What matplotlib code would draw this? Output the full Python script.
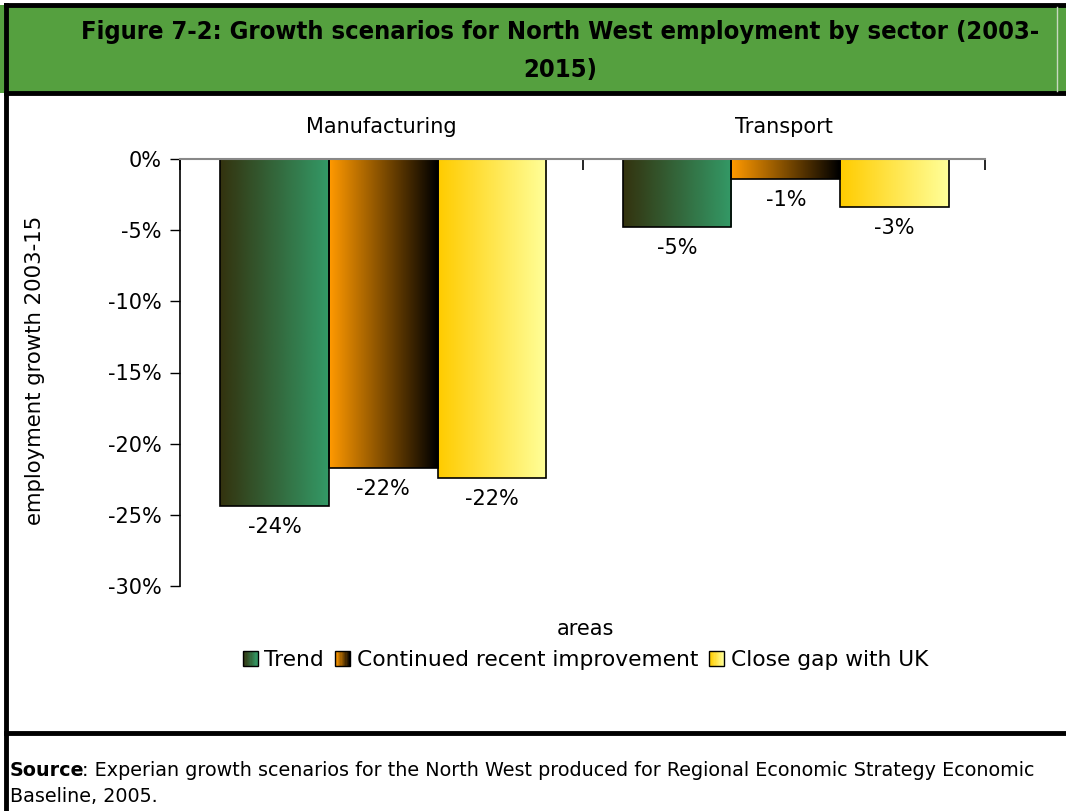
import numpy as np
import matplotlib
matplotlib.use("Agg")
import matplotlib.pyplot as plt
from matplotlib.patches import Rectangle
from matplotlib.legend_handler import HandlerBase
from matplotlib.lines import Line2D

# employment growth 2003-15, per cent
sectors = ["Manufacturing", "Transport"]
scenarios = ["Trend", "Continued recent improvement", "Close gap with UK"]
trend = [-24.4, -4.8]
continued = [-21.7, -1.4]
close_gap = [-22.4, -3.4]
yticks = [0, -5, -10, -15, -20, -25, -30]

# left -> right colour of each bar gradient
grads = [("#33330f", "#339966"), ("#ff9900", "#000000"), ("#ffcc00", "#ffff99")]

W, H = 1066, 811
plt.rcParams["font.family"] = "DejaVu Sans"
fig = plt.figure(figsize=(W / 100, H / 100), dpi=100)


def fx(px):
    return px / W


def fy(py):
    return 1 - py / H


def grad_img(c0, c1, n=64):
    a = np.array(matplotlib.colors.to_rgb(c0))
    b = np.array(matplotlib.colors.to_rgb(c1))
    t = np.linspace(0, 1, n)[:, None]
    return (a + (b - a) * t)[None, :, :]


# green title band and table rules
fig.patches.append(Rectangle((0, fy(93)), 1, fy(5) - fy(93), transform=fig.transFigure,
                             facecolor="#55a03f", edgecolor="none", zorder=0))
for y in (5, 93, 733):
    fig.add_artist(Line2D([fx(6), 1], [fy(y), fy(y)], color="black", lw=3.5))
fig.add_artist(Line2D([fx(6), fx(6)], [fy(5), 0], color="black", lw=3.5))
fig.add_artist(Line2D([fx(1057), fx(1057)], [fy(7), fy(91)], color="#c8d8c0", lw=1))

fig.text(fx(560), fy(32), "Figure 7-2: Growth scenarios for North West employment by sector (2003-",
         ha="center", va="center", fontsize=18.3, fontweight="bold", fontstretch="condensed")
fig.text(fx(560), fy(70), "2015)", ha="center", va="center", fontsize=18.3,
         fontweight="bold", fontstretch="condensed")

ax = fig.add_axes([fx(180), fy(586), fx(985) - fx(180), fy(159) - fy(586)])
x = np.arange(len(sectors))
bw = 0.27
for i, vals in enumerate([trend, continued, close_gap]):
    for xi, v in zip(x, vals):
        x0 = xi + (i - 1) * bw - bw / 2 + 0.005
        ax.imshow(grad_img(*grads[i]), extent=[x0, x0 + bw, v, 0], aspect="auto",
                  interpolation="bilinear", zorder=2)
        ax.add_patch(Rectangle((x0, v), bw, -v, facecolor="none", edgecolor="black",
                               lw=1.2, zorder=3))
        ax.annotate(f"{v:.0f}%", (x0 + bw / 2, v), xytext=(0, -21), textcoords="offset pixels",
                    ha="center", va="center", fontsize=15)

ax.set_xlim(-0.5, 1.5)
ax.set_ylim(-30, 0)
ax.set_yticks(yticks)
ax.set_yticklabels([f"{t}%" for t in yticks], fontsize=15)
ax.tick_params(axis="y", direction="out", length=7, width=1, pad=6)

ax.xaxis.tick_top()
ax.set_xticks(x)
ax.set_xticklabels(sectors, fontsize=15)
ax.set_xticks([-0.5, 0.5, 1.5], minor=True)
ax.tick_params(axis="x", which="major", length=0, pad=16)
ax.tick_params(axis="x", which="minor", direction="in", length=8, width=1.2, top=True)

for s in ("right", "bottom"):
    ax.spines[s].set_visible(False)
ax.spines["top"].set_color("#888888")
ax.spines["top"].set_linewidth(1.5)
ax.spines["top"].set_zorder(4)
ax.spines["left"].set_linewidth(1.2)

fig.text(fx(35), fy(370), "employment growth 2003-15", rotation=90, ha="center", va="center",
         fontsize=15.3)
fig.text(fx(585), fy(629), "areas", ha="center", va="center", fontsize=15)


class GradHandler(HandlerBase):
    def __init__(self, c0, c1):
        super().__init__()
        self.c0, self.c1 = c0, c1

    def create_artists(self, legend, orig, xd, yd, width, height, fontsize, trans):
        side = height * 1.0
        x0 = xd + width - side
        n = 12
        cols = grad_img(self.c0, self.c1, n)[0]
        arts = [Rectangle((x0 + k * side / n, -yd), side / n, side, facecolor=cols[k],
                          edgecolor="none", transform=trans) for k in range(n)]
        arts.append(Rectangle((x0, -yd), side, side, facecolor="none", edgecolor="black",
                              lw=1, transform=trans))
        return arts


handles = [Rectangle((0, 0), 1, 1) for _ in scenarios]
fig.legend(handles, scenarios, loc="center", bbox_to_anchor=(fx(585), fy(660)),
           ncol=3, frameon=False, fontsize=15.7, handlelength=0.75, handletextpad=0.3,
           columnspacing=0.45, handler_map={h: GradHandler(*g) for h, g in zip(handles, grads)})

# source note, bold lead-in followed by plain text
r = fig.canvas.get_renderer()
t = fig.text(fx(10), fy(770), "Source", fontweight="bold", fontsize=13.8, va="center")
ext = t.get_window_extent(renderer=r)
fig.text(ext.x1 / W - 0.002, fy(770),
         ": Experian growth scenarios for the North West produced for Regional Economic Strategy Economic",
         fontsize=13.8, va="center")
fig.text(fx(10), fy(797), "Baseline, 2005.", fontsize=13.8, va="center")

fig.savefig("out.png", dpi=100)
